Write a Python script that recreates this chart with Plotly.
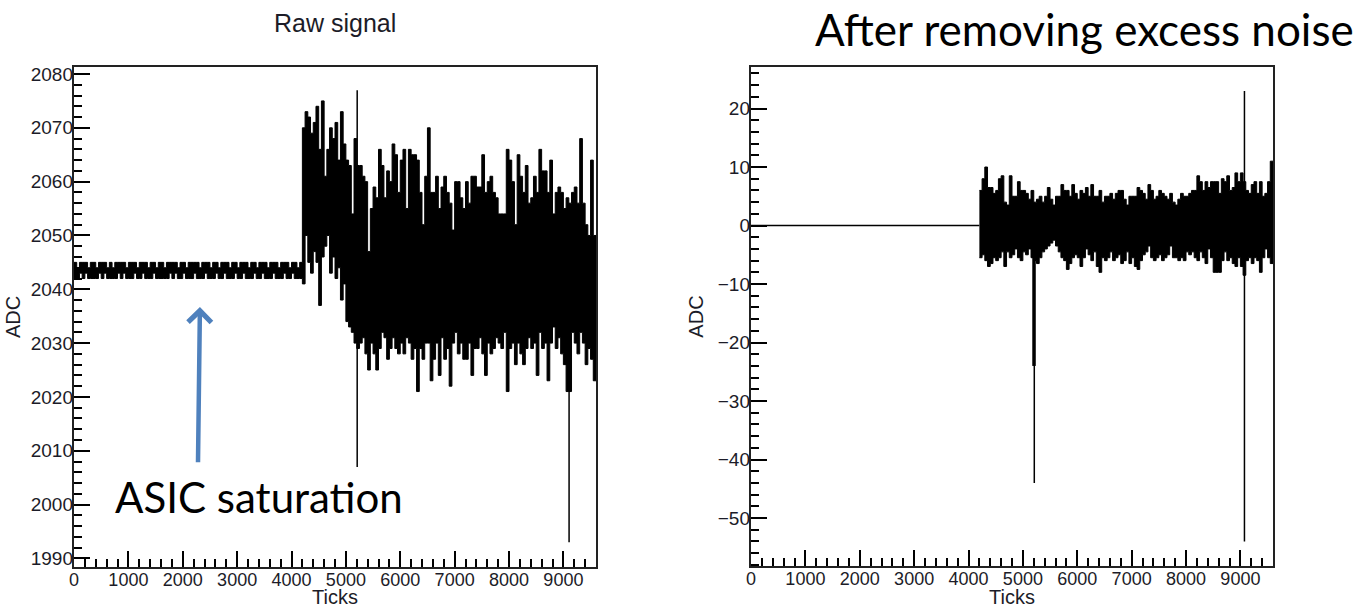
import plotly.graph_objects as go

# ---------------------------------------------------------------------------
# Waveform data: per-bin envelopes (min / max ADC in each 50-tick bin)
# ---------------------------------------------------------------------------
BIN_TICKS = 50
N_TICKS = 9600

# Raw signal, saturated part (0 - 4200 ticks)
raw_sat_hi = [
    2045, 2044, 2045, 2045, 2045, 2044, 2045, 2045, 2044, 2045, 2045, 2045,
    2044, 2045, 2044, 2045, 2045, 2045, 2045, 2044, 2045, 2045, 2045, 2044,
    2045, 2045, 2045, 2044, 2045, 2045, 2044, 2045, 2045, 2044, 2045, 2045,
    2045, 2045, 2044, 2045, 2045, 2044, 2045, 2045, 2045, 2045, 2044, 2045,
    2045, 2045, 2044, 2045, 2045, 2044, 2045, 2045, 2045, 2044, 2045, 2045,
    2044, 2045, 2045, 2045, 2044, 2045, 2045, 2044, 2045, 2045, 2045, 2044,
    2045, 2045, 2045, 2044, 2045, 2045, 2045, 2044, 2045, 2045, 2044, 2045,
]
raw_sat_lo = [
    2042, 2042, 2043, 2042, 2043, 2042, 2042, 2042, 2042, 2043, 2042, 2043,
    2042, 2042, 2042, 2042, 2043, 2042, 2043, 2042, 2042, 2042, 2043, 2042,
    2042, 2043, 2042, 2042, 2042, 2043, 2042, 2042, 2042, 2042, 2042, 2043,
    2042, 2043, 2042, 2042, 2043, 2042, 2042, 2042, 2043, 2042, 2042, 2042,
    2043, 2042, 2042, 2042, 2043, 2042, 2042, 2043, 2042, 2042, 2042, 2043,
    2042, 2042, 2043, 2042, 2042, 2042, 2043, 2042, 2042, 2043, 2042, 2042,
    2042, 2043, 2042, 2042, 2042, 2043, 2042, 2042, 2043, 2042, 2042, 2042,
]

# Raw signal, noisy part (4200 - 9600 ticks)
raw_noise_hi = [
    2070, 2073, 2072, 2069, 2071, 2074, 2066, 2075, 2061, 2066, 2070, 2068,
    2071, 2064, 2073, 2067, 2064, 2063, 2054, 2068, 2063, 2063, 2061, 2060,
    2047, 2055, 2059, 2057, 2066, 2063, 2057, 2062, 2060, 2067, 2065, 2058,
    2064, 2066, 2055, 2066, 2065, 2065, 2064, 2058, 2052, 2061, 2070, 2058,
    2058, 2061, 2055, 2059, 2061, 2058, 2056, 2051, 2060, 2060, 2057, 2055,
    2060, 2056, 2061, 2061, 2059, 2059, 2065, 2058, 2060, 2061, 2058, 2057,
    2054, 2054, 2054, 2066, 2064, 2060, 2052, 2065, 2061, 2058, 2063, 2056,
    2057, 2061, 2058, 2066, 2062, 2062, 2058, 2064, 2054, 2058, 2059, 2058,
    2055, 2057, 2056, 2058, 2059, 2056, 2068, 2056, 2052, 2050, 2064, 2050,
]
raw_noise_lo = [
    2041, 2050, 2045, 2043, 2047, 2045, 2037, 2046, 2048, 2050, 2043, 2046,
    2042, 2044, 2038, 2041, 2034, 2033, 2032, 2030, 2029, 2030, 2031, 2028,
    2025, 2030, 2028, 2025, 2029, 2032, 2031, 2027, 2029, 2031, 2029, 2028,
    2030, 2028, 2031, 2030, 2027, 2029, 2021, 2029, 2027, 2030, 2030, 2023,
    2027, 2030, 2024, 2031, 2027, 2029, 2022, 2030, 2032, 2028, 2030, 2027,
    2027, 2030, 2024, 2029, 2029, 2031, 2028, 2024, 2030, 2028, 2029, 2031,
    2030, 2029, 2032, 2021, 2029, 2030, 2026, 2030, 2028, 2026, 2029, 2031,
    2029, 2030, 2024, 2032, 2029, 2030, 2023, 2030, 2033, 2029, 2031, 2028,
    2026, 2021, 2021, 2032, 2030, 2028, 2032, 2030, 2026, 2029, 2027, 2023,
]

# Isolated single-tick excursions in the raw signal
raw_spike_ticks = [5208, 9105]
raw_spike_low = [2007, 1993]
raw_spike_high = [2077, 2056]

# Signal after excess-noise removal
clean_flat_ticks = [0, 4200]
clean_flat_level = [0, 0]

clean_noise_hi = [
    6, 8, 10, 6.5, 6.5, 5.5, 6, 8, 8.5, 4, 3.5, 8.5,
    5, 5, 7.5, 6, 6, 5.5, 4.5, 6, 4, 4.5, 5, 4,
    5, 6.5, 4.5, 3.5, 5, 5, 7, 6, 6, 5, 7, 5.5,
    4.5, 6, 5.5, 6.5, 5, 7, 5, 5, 6, 4, 5, 5,
    5.5, 4.5, 5.5, 6, 6, 4.5, 3.5, 5, 5, 5, 6.5, 6,
    5.5, 4.5, 7, 6, 4.5, 5, 6, 5.5, 5, 4.5, 5.5, 4,
    3.5, 4.5, 5.5, 5, 5, 5.5, 6, 6, 8.5, 7.5, 6, 7.5,
    6.5, 7.5, 7.5, 7.5, 5.5, 8, 7.5, 8.5, 6, 6.5, 9, 7.5,
    9, 7.5, 6, 5.5, 7, 7.5, 5.5, 7.5, 5, 5.5, 7.5, 11,
]
clean_noise_lo = [
    -5.5, -5, -6, -7, -6.5, -5.5, -6, -5.5, -4.5, -7, -4.5, -5.5,
    -5, -4, -5.5, -6, -4.5, -5, -4, -5.5, -6, -6.5, -5.5, -4.5,
    -4, -3.5, -3, -2.5, -3.5, -4.5, -5.5, -6, -7.5, -6.5, -5.5, -5,
    -5.5, -7, -5.5, -4, -5, -6, -4.5, -7, -8, -5.5, -6, -5.5,
    -4.5, -6, -5.5, -5, -6.5, -6, -4.5, -6.5, -5.5, -7, -7.5, -6,
    -5, -4.5, -3.5, -5.5, -6, -5.5, -5, -6, -5.5, -5, -3.5, -5.5,
    -5.5, -6, -5.5, -6, -4.5, -5, -4.5, -5.5, -6, -4.5, -5.5, -6.5,
    -4, -5.5, -8, -8, -8, -6, -4.5, -6, -5.5, -6.5, -7, -5.5,
    -7, -8.5, -6, -5.5, -6.5, -5.5, -6, -8, -5.5, -4, -5.5, -6.5,
]

clean_spike_ticks = [5210, 9075]
clean_spike_low = [-44, -54]
clean_spike_high = [4, 23]
# broader part of the first negative excursion
clean_wide_ticks = [5205]
clean_wide_low = [-24]
clean_wide_high = [0]

# Labelled tick values
tick_labels_x = [0, 1000, 2000, 3000, 4000, 5000, 6000, 7000, 8000, 9000]
raw_labels_y = [1990, 2000, 2010, 2020, 2030, 2040, 2050, 2060, 2070, 2080]
clean_labels_y = [-50, -40, -30, -20, -10, 0, 10, 20]

# ---------------------------------------------------------------------------
LABEL_FONT = "Liberation Sans, Arial, sans-serif"
SLIDE_FONT = "Lato, Carlito, Calibri, sans-serif"
INK = "#000000"
LABEL_INK = "#1c1c28"


def step_xy(start_tick, values):
    """Left bin edges plus a closing edge, for an 'hv' step line."""
    xs = [start_tick + i * BIN_TICKS for i in range(len(values))]
    xs.append(start_tick + len(values) * BIN_TICKS)
    ys = list(values) + [values[-1]]
    return xs, ys


def spike_xy(ticks, lows, highs):
    xs, ys = [], []
    for t, lo, hi in zip(ticks, lows, highs):
        xs += [t, t, None]
        ys += [lo, hi, None]
    return xs, ys


def band(fig, xa, ya, start, lows, highs):
    x_lo, y_lo = step_xy(start, lows)
    x_hi, y_hi = step_xy(start, highs)
    fig.add_trace(go.Scatter(x=x_lo, y=y_lo, mode="lines",
                             line=dict(color=INK, width=1, shape="hv"),
                             xaxis=xa, yaxis=ya, hoverinfo="skip", showlegend=False))
    fig.add_trace(go.Scatter(x=x_hi, y=y_hi, mode="lines",
                             line=dict(color=INK, width=1, shape="hv"),
                             fill="tonexty", fillcolor=INK,
                             xaxis=xa, yaxis=ya, hoverinfo="skip", showlegend=False))


def spikes(fig, xa, ya, ticks, lows, highs, width):
    sx, sy = spike_xy(ticks, lows, highs)
    fig.add_trace(go.Scatter(x=sx, y=sy, mode="lines", line=dict(color=INK, width=width),
                             xaxis=xa, yaxis=ya, hoverinfo="skip", showlegend=False))


fig = go.Figure()

# Each panel uses three stacked axis pairs sharing one frame:
#   fine ticks (base), long ticks (overlay), labels + titles (overlay).
# --- left panel: raw waveform ---------------------------------------------
band(fig, "x", "y", 0, raw_sat_lo + raw_noise_lo, raw_sat_hi + raw_noise_hi)
spikes(fig, "x3", "y3", raw_spike_ticks[:1], raw_spike_low[:1], raw_spike_high[:1], 1.5)
spikes(fig, "x5", "y5", raw_spike_ticks[1:], raw_spike_low[1:], raw_spike_high[1:], 1.5)

# --- right panel: cleaned waveform ------------------------------------------
fig.add_trace(go.Scatter(x=clean_flat_ticks, y=clean_flat_level, mode="lines",
                         line=dict(color=INK, width=1.5),
                         xaxis="x2", yaxis="y2", hoverinfo="skip", showlegend=False))
band(fig, "x2", "y2", clean_flat_ticks[-1], clean_noise_lo, clean_noise_hi)
spikes(fig, "x2", "y2", clean_wide_ticks, clean_wide_low, clean_wide_high, 3.5)
spikes(fig, "x4", "y4", clean_spike_ticks[:1], clean_spike_low[:1], clean_spike_high[:1], 1.5)
spikes(fig, "x6", "y6", clean_spike_ticks[1:], clean_spike_low[1:], clean_spike_high[1:], 1.5)

# ---------------------------------------------------------------------------
W, H = 1360, 608
X_RANGE = [0, N_TICKS]
RAW_RANGE = [1988.4, 2081.3]
CLEAN_RANGE = [-58.2, 27.1]


def xdom(left_px, right_px):
    return [left_px / W, right_px / W]


def ydom(bottom_px, top_px):
    return [(H - bottom_px) / H, (H - top_px) / H]


def fine_axis(domain, anchor, rng, step):
    """Frame plus short inside ticks, no labels."""
    return dict(
        domain=domain, anchor=anchor, range=rng, automargin=False,
        tickmode="linear", tick0=0, dtick=step,
        ticks="inside", ticklen=8, tickwidth=1.5, tickcolor=INK,
        showticklabels=False,
        showline=True, linecolor="#222", linewidth=1.6, mirror=True,
        showgrid=False, zeroline=False,
    )


def long_tick_axis(over, anchor, side, rng, labels):
    """Long inside ticks at the labelled values, no labels."""
    return dict(
        overlaying=over, anchor=anchor, side=side, range=rng, automargin=False,
        tickmode="array", tickvals=labels,
        ticks="inside", ticklen=16, tickwidth=1.6, tickcolor=INK,
        showticklabels=False,
        showline=False, showgrid=False, zeroline=False,
    )


def label_axis(over, anchor, side, rng, labels, title, standoff, fsize):
    """Tick labels and axis title only."""
    return dict(
        overlaying=over, anchor=anchor, side=side, range=rng, automargin=False,
        tickmode="array", tickvals=labels, ticks="",
        showline=False, showgrid=False, zeroline=False,
        tickfont=dict(family=LABEL_FONT, size=fsize, color=LABEL_INK),
        title=dict(text=title, font=dict(family=LABEL_FONT, size=20, color=LABEL_INK),
                   standoff=standoff),
    )


fig.update_layout(
    width=W, height=H,
    margin=dict(l=0, r=0, t=0, b=0, pad=0),
    paper_bgcolor="white", plot_bgcolor="white",
    # left panel
    xaxis=fine_axis(xdom(74, 596), "y", X_RANGE, 200),
    yaxis=fine_axis(ydom(567, 67), "x", RAW_RANGE, 2),
    xaxis3=long_tick_axis("x", "y3", "bottom", X_RANGE, tick_labels_x),
    yaxis3=long_tick_axis("y", "x3", "left", RAW_RANGE, raw_labels_y),
    xaxis5=label_axis("x", "y5", "bottom", X_RANGE, tick_labels_x, "Ticks", 9, 18),
    yaxis5=label_axis("y", "x5", "left", RAW_RANGE, raw_labels_y, "ADC", 4, 19),
    # right panel
    xaxis2=fine_axis(xdom(751, 1273), "y2", X_RANGE, 200),
    yaxis2=fine_axis(ydom(566, 67), "x2", CLEAN_RANGE, 2),
    xaxis4=long_tick_axis("x2", "y4", "bottom", X_RANGE, tick_labels_x),
    yaxis4=long_tick_axis("y2", "x4", "left", CLEAN_RANGE, clean_labels_y),
    xaxis6=label_axis("x2", "y6", "bottom", X_RANGE, tick_labels_x, "Ticks", 9, 18),
    yaxis6=label_axis("y2", "x6", "left", CLEAN_RANGE, clean_labels_y, "ADC", 8, 19),
    showlegend=False,
)

fig.add_annotation(text="Raw signal", xref="paper", yref="paper",
                   x=335 / W, y=(H - 23) / H, xanchor="center", yanchor="middle",
                   showarrow=False, font=dict(family=LABEL_FONT, size=25, color=LABEL_INK))
fig.add_annotation(text="After removing excess noise", xref="paper", yref="paper",
                   x=1084 / W, y=(H - 29) / H, xanchor="center", yanchor="middle",
                   showarrow=False, font=dict(family=SLIDE_FONT, size=44, color=INK))
fig.add_annotation(text="ASIC saturation", xref="paper", yref="paper",
                   x=259 / W, y=(H - 497) / H, xanchor="center", yanchor="middle",
                   showarrow=False, font=dict(family=SLIDE_FONT, size=42, color=INK))
# pointer to the saturated baseline
fig.add_annotation(text="", xref="x", yref="y", x=2316, y=2036.7,
                   axref="x", ayref="y", ax=2280, ay=2007.6,
                   showarrow=True, arrowhead=4, arrowsize=1, arrowwidth=4.5,
                   arrowcolor="#4F81BD", standoff=0, startstandoff=0)

fig.write_html("out.html")
